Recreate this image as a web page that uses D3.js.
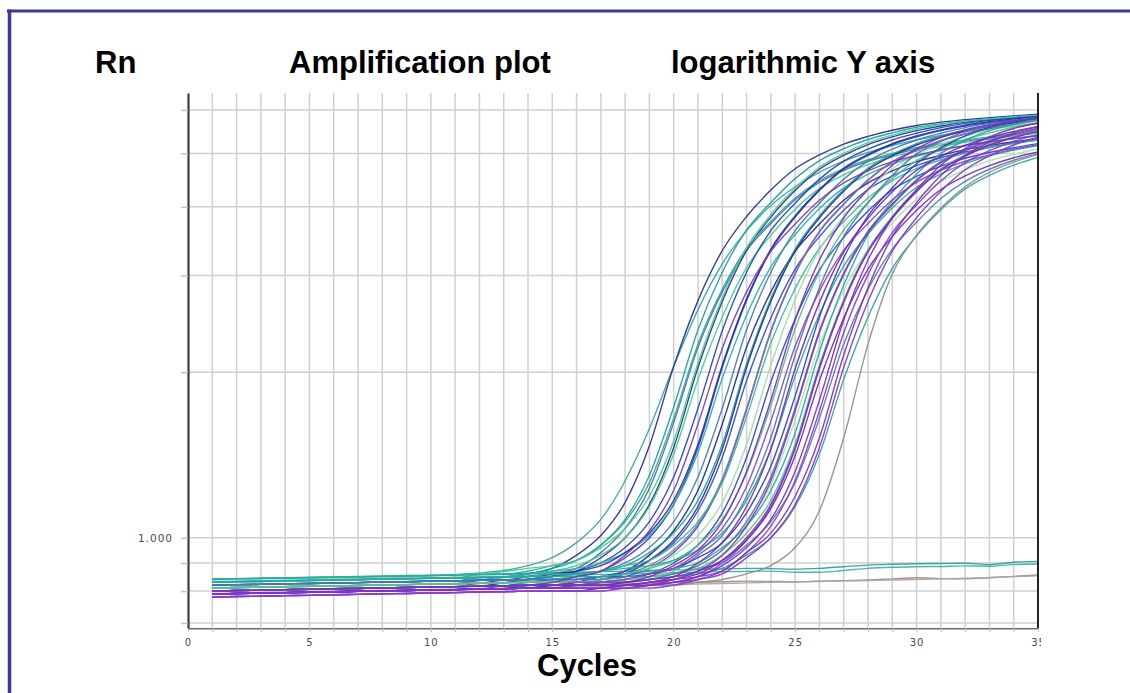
<!DOCTYPE html>
<html>
<head>
<meta charset="utf-8">
<script src="https://cdn.jsdelivr.net/npm/d3@7"></script>
<style>
  html, body { margin: 0; padding: 0; background: #fff; }
  svg { display: block; }
</style>
</head>
<body>
<svg id="chart" width="1130" height="693"></svg>
<script>
// cycle numbers and axis values
const cycles = [1,2,3,4,5,6,7,8,9,10,11,12,13,14,15,16,17,18,19,20,21,22,23,24,25,26,27,28,29,30,31,32,33,34,35];
const xTickValues = [0,5,10,15,20,25,30,35];
const yGridValues = [0.7,0.8,0.9,1,2,3,4,5,6];
const yLabelled = [1];

// Rn per cycle (one array per well)
const well01 = [0.842,0.843,0.844,0.845,0.846,0.847,0.848,0.849,0.851,0.853,0.857,0.863,0.872,0.89,0.92,0.98,1.08,1.27,1.58,2.05,2.60,3.15,3.62,4.02,4.35,4.62,4.84,5.02,5.17,5.29,5.39,5.48,5.55,5.61,5.66];
const well02 = [0.810,0.812,0.813,0.815,0.816,0.818,0.819,0.821,0.822,0.824,0.825,0.837,0.848,0.86,0.88,0.93,1.01,1.16,1.47,2.05,2.70,3.33,3.84,4.29,4.69,4.97,5.20,5.37,5.51,5.62,5.70,5.76,5.81,5.85,5.89];
const well03 = [0.820,0.822,0.823,0.825,0.826,0.828,0.829,0.831,0.832,0.834,0.835,0.847,0.848,0.86,0.88,0.91,0.97,1.08,1.30,1.73,2.39,3.04,3.63,4.07,4.50,4.85,5.10,5.30,5.45,5.58,5.66,5.73,5.78,5.83,5.87];
const well04 = [0.800,0.802,0.803,0.805,0.806,0.808,0.809,0.811,0.812,0.814,0.815,0.827,0.828,0.84,0.86,0.88,0.94,1.04,1.23,1.62,2.22,2.80,3.33,3.73,4.12,4.43,4.66,4.84,4.97,5.09,5.18,5.26,5.33,5.39,5.45];
const well05 = [0.800,0.802,0.803,0.805,0.806,0.808,0.809,0.811,0.812,0.814,0.815,0.817,0.828,0.84,0.85,0.87,0.92,1.00,1.15,1.46,2.04,2.69,3.33,3.83,4.28,4.68,4.96,5.19,5.36,5.50,5.61,5.70,5.76,5.81,5.85];
const well06 = [0.820,0.822,0.823,0.825,0.826,0.828,0.829,0.831,0.832,0.834,0.835,0.837,0.848,0.86,0.87,0.89,0.93,1.00,1.14,1.42,1.94,2.52,3.10,3.55,3.96,4.32,4.57,4.77,4.93,5.05,5.15,5.24,5.31,5.39,5.44];
const well07 = [0.810,0.812,0.813,0.815,0.816,0.818,0.819,0.821,0.822,0.824,0.825,0.827,0.838,0.84,0.85,0.87,0.90,0.96,1.07,1.29,1.72,2.38,3.04,3.62,4.06,4.49,4.84,5.09,5.29,5.44,5.57,5.67,5.74,5.80,5.84];
const well08 = [0.790,0.792,0.793,0.795,0.796,0.798,0.799,0.801,0.802,0.804,0.805,0.807,0.818,0.82,0.83,0.85,0.87,0.93,1.03,1.22,1.61,2.21,2.80,3.32,3.72,4.11,4.42,4.65,4.83,4.96,5.08,5.17,5.25,5.32,5.38];
const well09 = [0.800,0.802,0.803,0.805,0.806,0.808,0.809,0.811,0.812,0.814,0.815,0.817,0.818,0.83,0.84,0.85,0.87,0.92,1.00,1.15,1.46,2.04,2.70,3.33,3.83,4.28,4.68,4.96,5.19,5.36,5.50,5.61,5.69,5.75,5.80];
const well10 = [0.830,0.832,0.833,0.835,0.836,0.838,0.839,0.841,0.842,0.844,0.845,0.847,0.848,0.86,0.87,0.88,0.90,0.94,1.01,1.15,1.43,1.95,2.54,3.11,3.56,3.97,4.33,4.58,4.78,4.94,5.06,5.16,5.25,5.32,5.40];
const well11 = [0.810,0.812,0.813,0.815,0.816,0.818,0.819,0.821,0.822,0.824,0.825,0.827,0.828,0.84,0.84,0.85,0.87,0.90,0.96,1.07,1.29,1.72,2.39,3.04,3.62,4.06,4.49,4.84,5.09,5.29,5.44,5.57,5.67,5.74,5.80];
const well12 = [0.790,0.792,0.793,0.795,0.796,0.798,0.799,0.801,0.802,0.804,0.805,0.807,0.808,0.82,0.82,0.83,0.85,0.87,0.93,1.03,1.22,1.61,2.22,2.80,3.32,3.72,4.11,4.42,4.65,4.83,4.96,5.08,5.17,5.25,5.32];
const well13 = [0.820,0.822,0.823,0.825,0.826,0.828,0.829,0.831,0.832,0.834,0.835,0.837,0.838,0.84,0.85,0.86,0.87,0.89,0.94,1.02,1.17,1.48,2.07,2.72,3.35,3.85,4.30,4.70,4.98,5.21,5.38,5.52,5.63,5.71,5.78];
const well14 = [0.800,0.802,0.803,0.805,0.806,0.808,0.809,0.811,0.812,0.814,0.815,0.817,0.818,0.82,0.83,0.84,0.85,0.87,0.91,0.98,1.12,1.40,1.93,2.51,3.08,3.53,3.94,4.30,4.55,4.75,4.91,5.03,5.13,5.22,5.29];
const well15 = [0.800,0.802,0.803,0.805,0.806,0.808,0.809,0.811,0.812,0.814,0.815,0.817,0.818,0.82,0.83,0.83,0.84,0.86,0.89,0.95,1.06,1.28,1.72,2.38,3.03,3.61,4.05,4.48,4.83,5.08,5.28,5.43,5.56,5.66,5.75];
const well16 = [0.830,0.832,0.833,0.835,0.836,0.838,0.839,0.841,0.842,0.844,0.845,0.847,0.848,0.85,0.86,0.86,0.87,0.89,0.91,0.97,1.07,1.26,1.66,2.26,2.84,3.36,3.76,4.15,4.46,4.69,4.87,5.00,5.12,5.21,5.29];
const well17 = [0.810,0.812,0.813,0.815,0.816,0.818,0.819,0.821,0.822,0.824,0.825,0.827,0.828,0.83,0.83,0.84,0.85,0.86,0.88,0.93,1.01,1.16,1.48,2.06,2.71,3.34,3.84,4.29,4.69,4.97,5.20,5.37,5.51,5.62,5.72];
const well18 = [0.790,0.792,0.793,0.795,0.796,0.798,0.799,0.801,0.802,0.804,0.805,0.807,0.808,0.81,0.81,0.82,0.83,0.84,0.86,0.90,0.97,1.11,1.40,1.92,2.50,3.07,3.52,3.93,4.29,4.54,4.74,4.90,5.02,5.12,5.21];
const well19 = [0.820,0.822,0.823,0.825,0.826,0.828,0.829,0.831,0.832,0.834,0.835,0.837,0.838,0.84,0.84,0.85,0.85,0.86,0.88,0.91,0.97,1.08,1.31,1.74,2.40,3.05,3.63,4.07,4.50,4.85,5.10,5.30,5.45,5.58,5.68];
const well20 = [0.790,0.792,0.793,0.795,0.796,0.798,0.799,0.801,0.802,0.804,0.805,0.807,0.808,0.81,0.81,0.82,0.82,0.83,0.85,0.89,0.95,1.07,1.32,1.78,2.49,3.20,3.82,4.30,4.76,5.10,5.35,5.52,5.64,5.73,5.80];
const well21 = [0.780,0.782,0.783,0.785,0.786,0.788,0.789,0.791,0.792,0.794,0.795,0.797,0.798,0.80,0.80,0.80,0.81,0.82,0.83,0.85,0.90,0.98,1.14,1.45,2.03,2.68,3.31,3.81,4.26,4.66,4.94,5.17,5.34,5.48,5.59];
const well22 = [0.840,0.842,0.843,0.845,0.846,0.848,0.849,0.851,0.852,0.854,0.855,0.857,0.858,0.86,0.86,0.86,0.87,0.88,0.89,0.91,0.95,1.02,1.17,1.45,1.97,2.55,3.12,3.57,3.98,4.34,4.59,4.79,4.95,5.07,5.17];
const well23 = [0.800,0.802,0.803,0.805,0.806,0.808,0.809,0.811,0.812,0.814,0.815,0.817,0.818,0.82,0.82,0.82,0.83,0.84,0.85,0.87,0.93,1.01,1.19,1.52,2.15,2.85,3.53,4.07,4.56,4.99,5.26,5.48,5.62,5.73,5.82];
const well24 = [0.780,0.782,0.783,0.785,0.786,0.788,0.789,0.791,0.792,0.794,0.795,0.797,0.798,0.80,0.80,0.80,0.81,0.81,0.82,0.84,0.87,0.93,1.05,1.27,1.70,2.36,3.01,3.59,4.03,4.46,4.81,5.06,5.26,5.41,5.54];
const well25 = [0.810,0.812,0.813,0.815,0.816,0.818,0.819,0.821,0.822,0.824,0.825,0.827,0.828,0.83,0.83,0.83,0.84,0.84,0.85,0.87,0.89,0.95,1.06,1.25,1.64,2.24,2.82,3.34,3.74,4.13,4.44,4.67,4.85,4.98,5.10];
const well26 = [0.820,0.822,0.823,0.825,0.826,0.828,0.829,0.831,0.832,0.834,0.835,0.837,0.838,0.84,0.84,0.84,0.85,0.85,0.86,0.88,0.92,0.98,1.11,1.35,1.81,2.52,3.23,3.85,4.33,4.79,5.12,5.38,5.58,5.70,5.80];
const well27 = [0.780,0.782,0.783,0.785,0.786,0.788,0.789,0.791,0.792,0.794,0.795,0.797,0.798,0.80,0.80,0.80,0.80,0.81,0.82,0.83,0.85,0.90,0.99,1.14,1.45,2.03,2.68,3.31,3.81,4.26,4.66,4.94,5.17,5.34,5.48];
const well28 = [0.800,0.802,0.803,0.805,0.806,0.808,0.809,0.811,0.812,0.814,0.815,0.817,0.818,0.82,0.82,0.82,0.82,0.83,0.84,0.85,0.87,0.91,0.99,1.13,1.41,1.93,2.51,3.08,3.53,3.94,4.30,4.55,4.75,4.91,5.03];
const well29 = [0.830,0.832,0.833,0.835,0.836,0.838,0.839,0.841,0.842,0.844,0.845,0.847,0.848,0.85,0.85,0.85,0.85,0.86,0.87,0.88,0.90,0.96,1.05,1.22,1.55,2.18,2.88,3.56,4.10,4.59,5.00,5.28,5.50,5.64,5.75];
const well30 = [0.780,0.782,0.783,0.785,0.786,0.788,0.789,0.791,0.792,0.794,0.795,0.797,0.798,0.80,0.80,0.80,0.80,0.81,0.81,0.82,0.84,0.87,0.94,1.05,1.27,1.70,2.36,3.01,3.59,4.03,4.46,4.81,5.06,5.26,5.41];
const well31 = [0.820,0.822,0.823,0.825,0.826,0.828,0.829,0.831,0.832,0.834,0.835,0.837,0.838,0.84,0.84,0.84,0.84,0.85,0.85,0.86,0.88,0.90,0.97,1.07,1.26,1.65,2.25,2.83,3.35,3.75,4.14,4.45,4.68,4.86,4.99];
const well32 = [0.790,0.792,0.793,0.795,0.796,0.798,0.799,0.801,0.802,0.804,0.805,0.807,0.808,0.81,0.81,0.81,0.81,0.82,0.82,0.83,0.85,0.89,0.96,1.08,1.32,1.78,2.49,3.20,3.82,4.30,4.76,5.10,5.36,5.55,5.68];
const well33 = [0.790,0.792,0.793,0.795,0.796,0.798,0.799,0.801,0.802,0.804,0.805,0.807,0.808,0.81,0.81,0.81,0.81,0.81,0.82,0.83,0.84,0.86,0.92,1.00,1.15,1.46,2.04,2.69,3.32,3.82,4.27,4.67,4.95,5.18,5.35];
const well34 = [0.810,0.812,0.813,0.815,0.816,0.818,0.819,0.821,0.822,0.824,0.825,0.827,0.828,0.83,0.83,0.83,0.83,0.83,0.84,0.85,0.86,0.88,0.93,1.00,1.14,1.42,1.94,2.52,3.09,3.54,3.95,4.31,4.56,4.76,4.92];
const well35 = [0.800,0.802,0.803,0.805,0.806,0.808,0.809,0.811,0.812,0.814,0.815,0.817,0.818,0.82,0.82,0.82,0.82,0.82,0.82,0.82,0.83,0.84,0.86,0.89,0.96,1.12,1.52,2.25,3.02,3.55,3.98,4.35,4.62,4.82,4.98];
const well36 = [0.790,0.792,0.793,0.795,0.796,0.798,0.799,0.801,0.802,0.804,0.805,0.807,0.808,0.81,0.82,0.83,0.84,0.86,0.91,0.99,1.14,1.45,2.04,2.69,3.32,3.82,4.27,4.67,4.95,5.18,5.35,5.49,5.60,5.68,5.75];
const well37 = [0.810,0.812,0.813,0.815,0.816,0.818,0.819,0.821,0.822,0.824,0.825,0.827,0.828,0.83,0.83,0.83,0.83,0.84,0.85,0.86,0.88,0.93,1.02,1.17,1.48,2.06,2.71,3.34,3.84,4.29,4.69,4.97,5.20,5.37,5.51];
const well38 = [0.840,0.842,0.843,0.845,0.846,0.848,0.849,0.851,0.852,0.854,0.855,0.857,0.868,0.88,0.89,0.91,0.96,1.04,1.19,1.50,2.08,2.73,3.37,3.87,4.32,4.72,5.00,5.23,5.40,5.54,5.64,5.72,5.78,5.83,5.87];
const well39 = [0.800,0.802,0.803,0.805,0.806,0.808,0.809,0.811,0.812,0.814,0.815,0.817,0.818,0.82,0.82,0.82,0.83,0.83,0.84,0.86,0.89,0.95,1.07,1.29,1.72,2.38,3.03,3.61,4.05,4.48,4.83,5.08,5.28,5.43,5.56];
const well40 = [0.830,0.832,0.833,0.835,0.836,0.838,0.839,0.841,0.842,0.844,0.845,0.857,0.858,0.87,0.89,0.91,0.97,1.07,1.26,1.65,2.25,2.83,3.36,3.76,4.15,4.46,4.69,4.87,5.00,5.12,5.21,5.29,5.36,5.42,5.48];
const well41 = [0.820,0.822,0.823,0.825,0.826,0.828,0.829,0.831,0.832,0.834,0.835,0.837,0.838,0.85,0.86,0.87,0.89,0.94,1.02,1.17,1.48,2.06,2.72,3.35,3.85,4.30,4.70,4.98,5.21,5.38,5.52,5.63,5.71,5.78,5.83];
const well42 = [0.800,0.802,0.803,0.805,0.806,0.808,0.809,0.811,0.812,0.814,0.815,0.817,0.818,0.82,0.82,0.83,0.83,0.84,0.86,0.88,0.94,1.04,1.24,1.63,2.23,2.81,3.33,3.73,4.12,4.43,4.66,4.84,4.97,5.09,5.18];
const well43 = [0.790,0.792,0.793,0.795,0.796,0.798,0.799,0.801,0.802,0.804,0.805,0.807,0.808,0.81,0.81,0.81,0.81,0.82,0.83,0.84,0.86,0.91,1.00,1.15,1.46,2.04,2.69,3.32,3.82,4.27,4.67,4.95,5.18,5.35,5.49];
const well44 = [0.790,0.792,0.793,0.795,0.796,0.798,0.799,0.801,0.802,0.804,0.805,0.807,0.808,0.81,0.82,0.82,0.83,0.85,0.88,0.94,1.05,1.27,1.71,2.37,3.02,3.60,4.04,4.47,4.82,5.07,5.27,5.42,5.55,5.65,5.74];
const well45 = [0.800,0.802,0.803,0.805,0.806,0.808,0.809,0.811,0.812,0.814,0.815,0.817,0.818,0.82,0.82,0.82,0.82,0.82,0.83,0.84,0.85,0.87,0.94,1.02,1.19,1.52,2.15,2.85,3.53,4.07,4.56,4.96,5.24,5.45,5.60];

// wells that never amplify
const ntcA = [0.842,0.843,0.845,0.846,0.848,0.849,0.851,0.852,0.854,0.855,0.857,0.858,0.860,0.862,0.864,0.866,0.868,0.870,0.872,0.874,0.876,0.878,0.880,0.879,0.877,0.880,0.886,0.892,0.895,0.897,0.898,0.899,0.894,0.903,0.906];
const ntcB = [0.833,0.834,0.836,0.837,0.839,0.840,0.842,0.843,0.845,0.846,0.848,0.849,0.851,0.852,0.854,0.856,0.858,0.860,0.862,0.864,0.866,0.868,0.869,0.870,0.866,0.866,0.872,0.880,0.884,0.886,0.887,0.889,0.888,0.894,0.896];
const ntcC = [0.800,0.801,0.803,0.804,0.806,0.807,0.809,0.810,0.812,0.813,0.815,0.816,0.818,0.819,0.821,0.822,0.824,0.825,0.827,0.829,0.830,0.832,0.834,0.833,0.832,0.834,0.836,0.838,0.842,0.846,0.843,0.842,0.846,0.851,0.856];
const ntcD = [0.792,0.794,0.795,0.797,0.798,0.800,0.801,0.803,0.804,0.806,0.807,0.809,0.810,0.812,0.813,0.815,0.816,0.818,0.820,0.822,0.824,0.826,0.828,0.830,0.831,0.833,0.835,0.836,0.838,0.840,0.842,0.844,0.847,0.850,0.853];

// draw order, bottom to top
const traces = [
  { values: ntcC, color: "#9c8a80" },
  { values: ntcD, color: "#b0a49c" },
  { values: ntcA, color: "#2a9f9b" },
  { values: ntcB, color: "#3bb0a8" },
  { values: well01, color: "#35a893" },
  { values: well02, color: "#262f96" },
  { values: well03, color: "#1f9e9a" },
  { values: well04, color: "#5c6b9e" },
  { values: well05, color: "#2b2f8f" },
  { values: well06, color: "#3fcf8f" },
  { values: well40, color: "#2aa8a0" },
  { values: well07, color: "#2242c6" },
  { values: well09, color: "#2a3cc0" },
  { values: well10, color: "#2ab0a8" },
  { values: well41, color: "#26339e" },
  { values: well11, color: "#3f7db4" },
  { values: well12, color: "#1f2a88" },
  { values: well13, color: "#21a39b" },
  { values: well36, color: "#243194" },
  { values: well38, color: "#3ecf95" },
  { values: well14, color: "#2f4bd0" },
  { values: well44, color: "#3350c8" },
  { values: well15, color: "#8a72ac" },
  { values: well16, color: "#36b898" },
  { values: well17, color: "#9fdc9c" },
  { values: well18, color: "#2c44c4" },
  { values: well19, color: "#48c47e" },
  { values: well22, color: "#28a5a0" },
  { values: well23, color: "#4a78b4" },
  { values: well25, color: "#a9e3a6" },
  { values: well26, color: "#2d3fc2" },
  { values: well29, color: "#22a8a0" },
  { values: well31, color: "#4d7fb0" },
  { values: well34, color: "#2f9fa6" },
  { values: well37, color: "#52c98a" },
  { values: well39, color: "#5a6fa6" },
  { values: well35, color: "#8e8e8e" },
  { values: well08, color: "#7a3cb0" },
  { values: well20, color: "#7b2bc6" },
  { values: well42, color: "#8a45c0" },
  { values: well21, color: "#7425c0" },
  { values: well24, color: "#8033c8" },
  { values: well27, color: "#9448cc" },
  { values: well43, color: "#7a2fbf" },
  { values: well28, color: "#6f2ab8" },
  { values: well30, color: "#8a3ad0" },
  { values: well32, color: "#7530c2" },
  { values: well33, color: "#8237c6" },
  { values: well45, color: "#7c34b8" },
];

const width = 1130;
const height = 693;
const plot = { left: 188, right: 1038, top: 93, bottom: 628 };
const titleFont = "'Liberation Sans', Arial, Helvetica, sans-serif";

const svg = d3.select("#chart");
svg.append("rect").attr("width", width).attr("height", height).attr("fill", "#fff");

const x = d3.scaleLinear().domain([0, 35]).range([plot.left, plot.right]);
const y = d3.scaleLog().domain([0.6855, 6.44]).range([plot.bottom, plot.top]);

// grid
const grid = svg.append("g").attr("class", "grid");
grid.selectAll("line.vgrid")
  .data(cycles.filter((c) => c < 35))
  .join("line")
  .attr("class", "vgrid")
  .attr("x1", (d) => x(d)).attr("x2", (d) => x(d))
  .attr("y1", plot.top).attr("y2", plot.bottom)
  .attr("stroke", "#cfcfcf")
  .attr("stroke-width", 1.5);

grid.selectAll("line.hgrid")
  .data(yGridValues)
  .join("line")
  .attr("class", "hgrid")
  .attr("x1", plot.left).attr("x2", plot.right)
  .attr("y1", (d) => y(d)).attr("y2", (d) => y(d))
  .attr("stroke", "#cfcfcf")
  .attr("stroke-width", 1.5);

// curves
const line = d3.line()
  .x((d, i) => x(cycles[i]))
  .y((d) => y(d))
  .curve(d3.curveMonotoneX);

svg.append("g")
  .attr("class", "curves")
  .selectAll("path")
  .data(traces)
  .join("path")
  .attr("fill", "none")
  .attr("stroke", (d) => d.color)
  .attr("stroke-width", 1.4)
  .attr("stroke-opacity", 0.92)
  .attr("d", (d) => line(d.values));

// axes
const xAxis = d3.axisBottom(x)
  .tickValues([0].concat(cycles))
  .tickSize(4)
  .tickSizeOuter(0)
  .tickPadding(7)
  .tickFormat((d) => (xTickValues.includes(d) ? d : ""));

svg.append("clipPath").attr("id", "xlabClip")
  .append("rect").attr("x", 0).attr("y", 0).attr("width", 1041).attr("height", height);

const gx = svg.append("g")
  .attr("transform", `translate(0,${plot.bottom})`)
  .attr("clip-path", "url(#xlabClip)")
  .call(xAxis);
gx.select(".domain").attr("stroke", "#6a6a6a").attr("stroke-width", 2);
gx.selectAll(".tick line").attr("stroke", "#bdbdbd");
gx.selectAll(".tick text")
  .attr("fill", "#4a4a4a")
  .style("font-family", "'DejaVu Sans', sans-serif")
  .style("font-size", "10px")
  .style("letter-spacing", "1px");

const yAxis = d3.axisLeft(y)
  .tickValues(yGridValues)
  .tickSize(7)
  .tickSizeOuter(0)
  .tickPadding(8)
  .tickFormat((d) => (yLabelled.includes(d) ? d3.format(".3f")(d) : ""));

const gy = svg.append("g")
  .attr("transform", `translate(${plot.left},0)`)
  .call(yAxis);
gy.select(".domain").attr("stroke", "#3c3c3c").attr("stroke-width", 2.2);
gy.selectAll(".tick line").attr("stroke", "#c4c4c4").attr("stroke-width", 1.5);
gy.selectAll(".tick text")
  .attr("fill", "#4a4a4a")
  .style("font-family", "'DejaVu Sans', sans-serif")
  .style("font-size", "10.5px")
  .style("letter-spacing", "1px");

svg.append("line")
  .attr("x1", plot.right).attr("x2", plot.right)
  .attr("y1", plot.top).attr("y2", plot.bottom)
  .attr("stroke", "#222")
  .attr("stroke-width", 2);

// titles
const titles = [
  { text: "Rn", x: 95, y: 73 },
  { text: "Amplification plot", x: 289, y: 73 },
  { text: "logarithmic Y axis", x: 671, y: 73 },
  { text: "Cycles", x: 537, y: 676 },
];
svg.append("g")
  .selectAll("text")
  .data(titles)
  .join("text")
  .attr("x", (d) => d.x)
  .attr("y", (d) => d.y)
  .attr("fill", "#000")
  .style("font-family", titleFont)
  .style("font-weight", "bold")
  .style("font-size", "31px")
  .text((d) => d.text);

// frame
svg.append("line")
  .attr("x1", 7).attr("x2", width)
  .attr("y1", 11).attr("y2", 11)
  .attr("stroke", "#3a3a9e").attr("stroke-width", 3);
svg.append("line")
  .attr("x1", 9.5).attr("x2", 9.5)
  .attr("y1", 9.5).attr("y2", height)
  .attr("stroke", "#3a3a9e").attr("stroke-width", 3.5);
</script>
</body>
</html>
